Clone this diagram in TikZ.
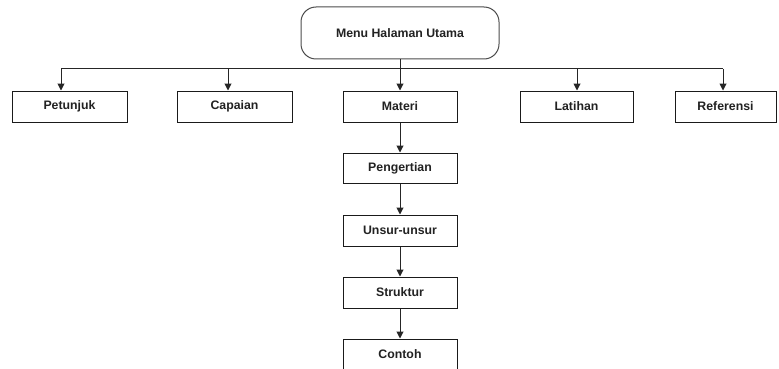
\documentclass[tikz,border=0pt]{standalone}
\usepackage{fontspec}
\setmainfont{Liberation Sans}
\usetikzlibrary{arrows.meta}
\definecolor{txt}{HTML}{222222}
\definecolor{edge}{HTML}{1A1A1A}
\tikzset{
  box/.style={draw=edge, line width=1pt, fill=white, minimum height=31pt,
    inner sep=0pt, text=txt, font=\fontsize{12.3}{14}\selectfont\bfseries},
  topbox/.style={box, draw=black!70, rounded corners=15pt, minimum width=198pt, minimum height=52pt},
  conn/.style={draw=black!85, line width=1pt},
  arr/.style={conn, -{Triangle[length=7pt,width=7pt]}}
}
\begin{document}
\begin{tikzpicture}[x=1pt,y=-1pt]
\useasboundingbox (0,0) rectangle (779,369);
\clip (0,0) rectangle (779,369);
\node[topbox] (top) at (400,33) {Menu Halaman Utama};
\node[box, minimum width=115pt] (petunjuk) at (69.5,106.5) {Petunjuk};
\node[box, minimum width=115pt] (capaian) at (234.5,106.5) {Capaian};
\node[box, minimum width=114pt] (materi) at (400,106.5) {Materi};
\node[box, minimum width=113pt] (latihan) at (576.5,106.5) {Latihan};
\node[box, minimum width=101pt] (referensi) at (725.5,106.5) {Referensi};
\node[box, minimum width=114pt, minimum height=30pt] (pengertian) at (400,168) {Pengertian};
\node[box, minimum width=114pt] (unsur) at (400,230.5) {Unsur-unsur};
\node[box, minimum width=114pt] (struktur) at (400,292.5) {Struktur};
\node[box, minimum width=114pt] (contoh) at (400,354.5) {Contoh};
\coordinate (hl) at (61,69);
\coordinate (hc) at (228,69);
\coordinate (hla) at (577,69);
\coordinate (hr) at (723,69);
\draw[conn] (hl) -- (hr);
\draw[arr] (hl) -- (hl |- petunjuk.north);
\draw[arr] (hc) -- (hc |- capaian.north);
\draw[arr] (hla) -- (hla |- latihan.north);
\draw[arr] (hr) -- (hr |- referensi.north);
\draw[arr] (top.south) -- (materi.north);
\draw[arr] (materi.south) -- (pengertian.north);
\draw[arr] (pengertian.south) -- (unsur.north);
\draw[arr] (unsur.south) -- (struktur.north);
\draw[arr] (struktur.south) -- (contoh.north);
\end{tikzpicture}
\end{document}
